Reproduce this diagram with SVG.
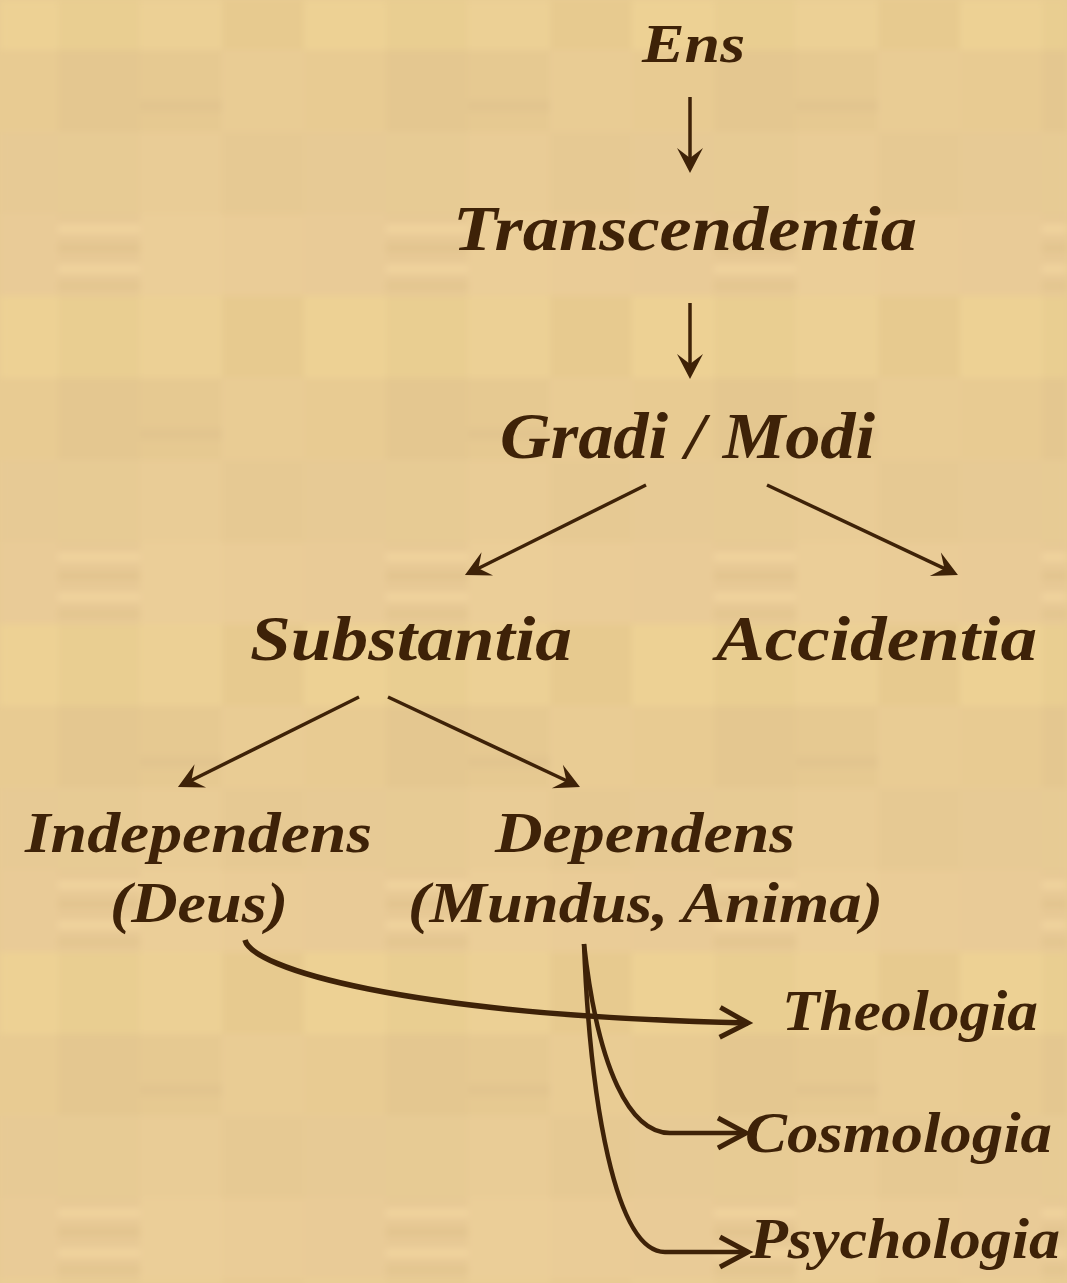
<svg xmlns="http://www.w3.org/2000/svg" width="1067" height="1283" viewBox="0 0 1067 1283">
  <style>
    .t { font-family: "Liberation Serif", "DejaVu Serif", serif; font-weight: bold; font-style: italic; fill: #3e2208; }
    .ln { stroke: #3e2208; fill: none; }
    .thin { stroke-width: 3.5; }
    .curve { stroke-width: 5.5; }
    .curve2 { stroke-width: 4.5; }
  </style>
  <defs>
    <pattern id="parch" patternUnits="userSpaceOnUse" x="-24" y="-32" width="328" height="328">
      <rect x="0" y="0" width="82" height="82" fill="#edd194"/>
      <rect x="82" y="0" width="82" height="82" fill="#e9ce91"/>
      <rect x="164" y="0" width="82" height="82" fill="#ecd095"/>
      <rect x="246" y="0" width="82" height="82" fill="#e7ca8f"/>
      <rect x="0" y="82" width="82" height="82" fill="#e8cb92"/>
      <rect x="82" y="82" width="82" height="82" fill="#e4c790"/>
      <rect x="164" y="82" width="82" height="82" fill="#e6c991"/>
      <rect x="246" y="82" width="82" height="82" fill="#e9cc94"/>
      <rect x="0" y="164" width="82" height="82" fill="#e7ca95"/>
      <rect x="82" y="164" width="82" height="82" fill="#e7cb94"/>
      <rect x="164" y="164" width="82" height="82" fill="#e9cc96"/>
      <rect x="246" y="164" width="82" height="82" fill="#e6c993"/>
      <rect x="0" y="246" width="82" height="82" fill="#e9cb97"/>
      <rect x="82" y="246" width="82" height="82" fill="#e7c995"/>
      <rect x="164" y="246" width="82" height="82" fill="#ebce98"/>
      <rect x="246" y="246" width="82" height="82" fill="#eacc97"/>
      <rect x="82" y="256" width="82" height="10" fill="#efd29c"/>
      <rect x="82" y="276" width="82" height="8" fill="#e2c48e"/>
      <rect x="82" y="296" width="82" height="10" fill="#efd29c"/>
      <rect x="82" y="314" width="82" height="8" fill="#e3c68f"/>
      <rect x="164" y="132" width="82" height="12" fill="#e2c58f"/>
    </pattern>
    <filter id="soft" x="0" y="0" width="1" height="1">
      <feGaussianBlur stdDeviation="3"/>
    </filter>
    <marker id="headThin" markerUnits="userSpaceOnUse" viewBox="-28 -15 32 30" refX="-13" refY="0" markerWidth="32" markerHeight="30" orient="auto">
      <path d="M0,0 L-25,-13 L-15,0 L-25,13 Z" fill="#3e2208"/>
    </marker>
    <marker id="headCurve" markerUnits="userSpaceOnUse" viewBox="-32 -18 40 36" refX="0" refY="0" markerWidth="40" markerHeight="36" orient="auto">
      <path d="M-28,-15 L0,0 L-28,15" fill="none" stroke="#3e2208" stroke-width="5"/>
    </marker>
  </defs>

  <rect x="0" y="0" width="1067" height="1283" fill="#e8cb93"/>
  <rect x="0" y="0" width="1067" height="1283" fill="url(#parch)" filter="url(#soft)"/>

  <g id="connectors">
    <path class="ln thin" d="M690,97 L690,160" marker-end="url(#headThin)"/>
    <path class="ln thin" d="M690,303 L690,366" marker-end="url(#headThin)"/>
    <path class="ln thin" d="M646,485 L476.6,569.2" marker-end="url(#headThin)"/>
    <path class="ln thin" d="M767,485 L946.2,569.4" marker-end="url(#headThin)"/>
    <path class="ln thin" d="M359,697 L189.6,781.2" marker-end="url(#headThin)"/>
    <path class="ln thin" d="M388,697 L568.2,781.5" marker-end="url(#headThin)"/>
    <path class="ln curve" d="M245,940 C252,968 400,1015 748,1023" marker-end="url(#headCurve)"/>
    <path class="ln curve2" d="M584,944 C598,1070 630,1133 670,1133 L746,1133" marker-end="url(#headCurve)"/>
    <path class="ln curve2" d="M584,944 C590,1100 615,1252 665,1252 L748,1252" marker-end="url(#headCurve)"/>
  </g>

  <g id="node-ens"><text class="t" x="642" y="62" font-size="54" textLength="103" lengthAdjust="spacingAndGlyphs">Ens</text></g>
  <g id="node-transcendentia"><text class="t" x="453" y="250" font-size="64" textLength="464" lengthAdjust="spacingAndGlyphs">Transcendentia</text></g>
  <g id="node-gradi"><text class="t" x="500" y="458" font-size="66" textLength="375" lengthAdjust="spacingAndGlyphs">Gradi / Modi</text></g>
  <g id="node-substantia"><text class="t" x="250" y="660" font-size="64" textLength="322" lengthAdjust="spacingAndGlyphs">Substantia</text></g>
  <g id="node-accidentia"><text class="t" x="716" y="660" font-size="64" textLength="321" lengthAdjust="spacingAndGlyphs">Accidentia</text></g>
  <g id="node-independens">
    <text class="t" x="25" y="852" font-size="58" textLength="347" lengthAdjust="spacingAndGlyphs">Independens</text>
    <text class="t" x="110" y="922" font-size="58" textLength="178" lengthAdjust="spacingAndGlyphs">(Deus)</text>
  </g>
  <g id="node-dependens">
    <text class="t" x="495" y="852" font-size="58" textLength="300" lengthAdjust="spacingAndGlyphs">Dependens</text>
    <text class="t" x="408" y="922" font-size="58" textLength="475" lengthAdjust="spacingAndGlyphs">(Mundus, Anima)</text>
  </g>
  <g id="node-theologia"><text class="t" x="782" y="1030" font-size="56" textLength="256" lengthAdjust="spacingAndGlyphs">Theologia</text></g>
  <g id="node-cosmologia"><text class="t" x="745" y="1152" font-size="56" textLength="307" lengthAdjust="spacingAndGlyphs">Cosmologia</text></g>
  <g id="node-psychologia"><text class="t" x="750" y="1258" font-size="56" textLength="310" lengthAdjust="spacingAndGlyphs">Psychologia</text></g>
</svg>
